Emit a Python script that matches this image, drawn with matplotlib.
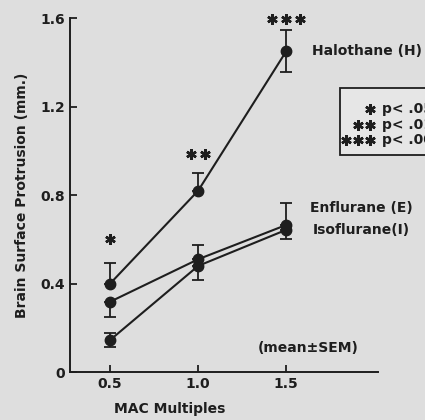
import matplotlib
matplotlib.use("Agg")
import matplotlib.pyplot as plt
from matplotlib.patches import Rectangle
from matplotlib.transforms import offset_copy

mac = [0.5, 1.0, 1.5]
halothane = [0.40, 0.82, 1.45]
halothane_err_lo = [0.0, 0.0, 0.095]
halothane_err_hi = [0.094, 0.08, 0.095]
enflurane = [0.318, 0.51, 0.665]
enflurane_err_lo = [0.07, 0.0, 0.0]
enflurane_err_hi = [0.0, 0.065, 0.10]
isoflurane = [0.145, 0.48, 0.643]
isoflurane_err_lo = [0.03, 0.065, 0.04]
isoflurane_err_hi = [0.03, 0.0, 0.0]
star_counts = [1, 2, 3]
star_y = [0.60, 0.986, 1.597]
yticks = [0, 0.4, 0.8, 1.2, 1.6]
ytick_labels = ["0", "0.4", "0.8", "1.2", "1.6"]
xtick_labels = ["0.5", "1.0", "1.5"]
legend_lines = ["p< .05", "p< .01", "p< .001"]

bg = "#dedede"
ink = "#1e1e1e"
plt.rcParams['font.family'] = ['DejaVu Sans']

fig = plt.figure(figsize=(4.25, 4.2), dpi=100, facecolor=bg)
ax = fig.add_axes([0.165, 0.114, 0.724, 0.843])
ax.set_facecolor(bg)
ax.set_xlim(0.273, 2.02)
ax.set_ylim(0, 1.6)

for y, lo, hi in [(halothane, halothane_err_lo, halothane_err_hi),
                  (enflurane, enflurane_err_lo, enflurane_err_hi),
                  (isoflurane, isoflurane_err_lo, isoflurane_err_hi)]:
    ax.errorbar(mac, y, yerr=[lo, hi], color=ink, lw=1.5, marker='o', ms=7.5,
                capsize=4, elinewidth=1.3, capthick=1.3, clip_on=False)

star_marker = (6, 2, 0)
star_kw = dict(marker=star_marker, ms=7.5, mew=1.8, color=ink, ls='none', clip_on=False)


def draw_stars(x, y, n, align='center', sp=10.0):
    for k in range(n):
        if align == 'center':
            off = (k - (n - 1) / 2.0) * sp
        else:
            off = -k * sp
        tr = offset_copy(ax.transData, fig=fig, x=off, y=0, units='points')
        ax.plot([x], [y], transform=tr, **star_kw)


for x, n, sy in zip(mac, star_counts, star_y):
    draw_stars(x, sy, n, sp=10.0)

ax.text(1.648, 1.452, "Halothane (H)", fontsize=10, color=ink, va='center', fontweight='bold')
ax.text(1.636, 0.742, "Enflurane (E)", fontsize=10, color=ink, va='center', fontweight='bold')
ax.text(1.648, 0.643, "Isoflurane(I)", fontsize=10, color=ink, va='center', fontweight='bold')
ax.text(1.34, 0.109, "(mean\u00b1SEM)", fontsize=10, color=ink, va='center', fontweight='bold')

# legend box
ax.add_patch(Rectangle((1.807, 0.982), 0.6, 0.303, fill=True, facecolor="#e6e6e6",
                       edgecolor=ink, lw=1.3, clip_on=False))
leg_y = [1.19, 1.118, 1.047]
for n, t, yy in zip(star_counts, legend_lines, leg_y):
    draw_stars(1.977, yy, n, align='right', sp=8.6)
    ax.text(2.045, yy, t, ha='left', va='center', fontsize=10, fontweight='bold',
            color=ink, clip_on=False)

for side in ['top', 'right']:
    ax.spines[side].set_visible(False)
ax.spines['left'].set_linewidth(1.4)
ax.spines['bottom'].set_linewidth(1.4)
ax.spines['left'].set_color(ink)
ax.spines['bottom'].set_color(ink)

ax.set_yticks(yticks)
ax.set_yticklabels(ytick_labels)
ax.set_xticks(mac)
ax.set_xticklabels(xtick_labels)
ax.tick_params(direction='in', length=5, width=1.3, colors=ink, labelsize=10)
for lab in ax.get_xticklabels() + ax.get_yticklabels():
    lab.set_fontweight('bold')

ax.set_ylabel("Brain Surface Protrusion (mm.)", fontsize=10, fontweight='bold', color=ink, labelpad=8)
ax.set_xlabel("MAC Multiples", fontsize=10, fontweight='bold', color=ink)
ax.xaxis.set_label_coords(0.325, -0.085)

fig.savefig("out.png", dpi=100, facecolor=bg)
